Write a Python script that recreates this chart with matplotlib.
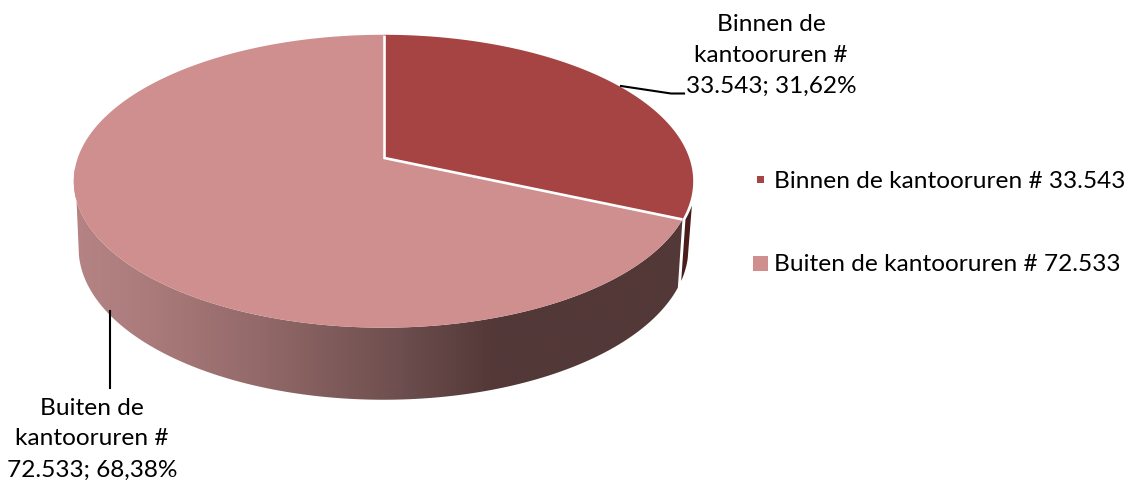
#!/usr/bin/env python3
import numpy as np
import matplotlib
matplotlib.use("Agg")
from matplotlib import pyplot as plt
from matplotlib.colors import LinearSegmentedColormap
from matplotlib.patches import Polygon

categories = ["Binnen de kantooruren # 33.543", "Buiten de kantooruren # 72.533"]
values = [33543, 72533]
data_labels = ["Binnen de\nkantooruren #\n33.543; 31,62%", "Buiten de\nkantooruren #\n72.533; 68,38%"]
colors = ["#A54442", "#CF8F8E"]

plt.rcParams["font.family"] = ["Lato", "DejaVu Sans"]
FS = 17.6


def rim(theta, cy, a, b, k=0.16):
    # perspective circle: theta in degrees, clockwise from the top
    t = np.radians(theta)
    u, v = np.sin(t), np.cos(t)
    d = 1 + k * v
    return np.column_stack([383.5 + b * u / d, cy - a * v / d])


def top(theta):
    return rim(theta, 158.8, 142.7, 305.7)


def bottom(theta):
    return rim(theta, 224.8, 147.8, 301)


fig = plt.figure(figsize=(11.3, 4.85), dpi=100)
ax = fig.add_axes([0, 0, 1, 1])
ax.set_xlim(0, 1130)
ax.set_ylim(485, 0)
ax.axis("off")

split = 360 * values[0] / sum(values)

# side of the big slice, shaded from left to right
side = np.vstack([top(np.linspace(split, 266, 150)), bottom(np.linspace(258, split, 150))])
poly = Polygon(side, closed=True, fc="none", ec="none")
ax.add_patch(poly)
cmap = LinearSegmentedColormap.from_list("side", [
    (0.0, "#B58383"), (0.13, "#AA7A7A"), (0.30, "#936969"),
    (0.52, "#6F4F4F"), (0.68, "#533838"), (1.0, "#533838")])
im = ax.imshow(np.linspace(0, 1, 400).reshape(1, -1), cmap=cmap, extent=[73, 693, 485, 0],
               aspect="auto", zorder=1)
im.set_clip_path(poly)
ax.set_xlim(0, 1130)
ax.set_ylim(485, 0)

# sliver of the small slice that shows on the right
sliver = np.vstack([top(np.linspace(108.5, split, 10)) + [3, 0], bottom(np.linspace(split - 2.5, 103, 20))])
ax.add_patch(Polygon(sliver, closed=True, fc="#4A1D1C", ec="none", zorder=2))

# top faces
apex = [[383.5, 158.8]]
ax.add_patch(Polygon(np.vstack([apex, top(np.linspace(split, 360, 300))]), closed=True,
                     fc=colors[1], ec="none", zorder=3))
ax.add_patch(Polygon(np.vstack([apex, top(np.linspace(0, split, 200))]), closed=True,
                     fc=colors[0], ec="none", zorder=3))
for angle in [0, split]:
    p = top(np.array([angle]))[0]
    ax.plot([383.5, p[0]], [158.8, p[1]], color="white", lw=1.9, zorder=4, solid_capstyle="butt")

# leader lines
ax.plot([621, 671, 684], [87, 94.5, 94.5], color="black", lw=1.5, zorder=5)
ax.plot([110, 110], [312, 389], color="black", lw=1.5, zorder=5)

# data labels
ax.text(771, 55.5, data_labels[0], ha="center", va="center", fontsize=FS, linespacing=1.58, color="black")
ax.text(92, 439, data_labels[1], ha="center", va="center", fontsize=FS, linespacing=1.58, color="black")

# legend
ax.add_patch(Polygon([[757, 177], [764, 177], [764, 184], [757, 184]], closed=True, fc=colors[0], ec="none"))
ax.add_patch(Polygon([[753, 257], [768, 257], [768, 272], [753, 272]], closed=True, fc=colors[1], ec="none"))
ax.text(774, 181.5, categories[0], ha="left", va="center", fontsize=FS, color="black")
ax.text(774, 264.5, categories[1], ha="left", va="center", fontsize=FS, color="black")

fig.savefig("out.png", dpi=100)
